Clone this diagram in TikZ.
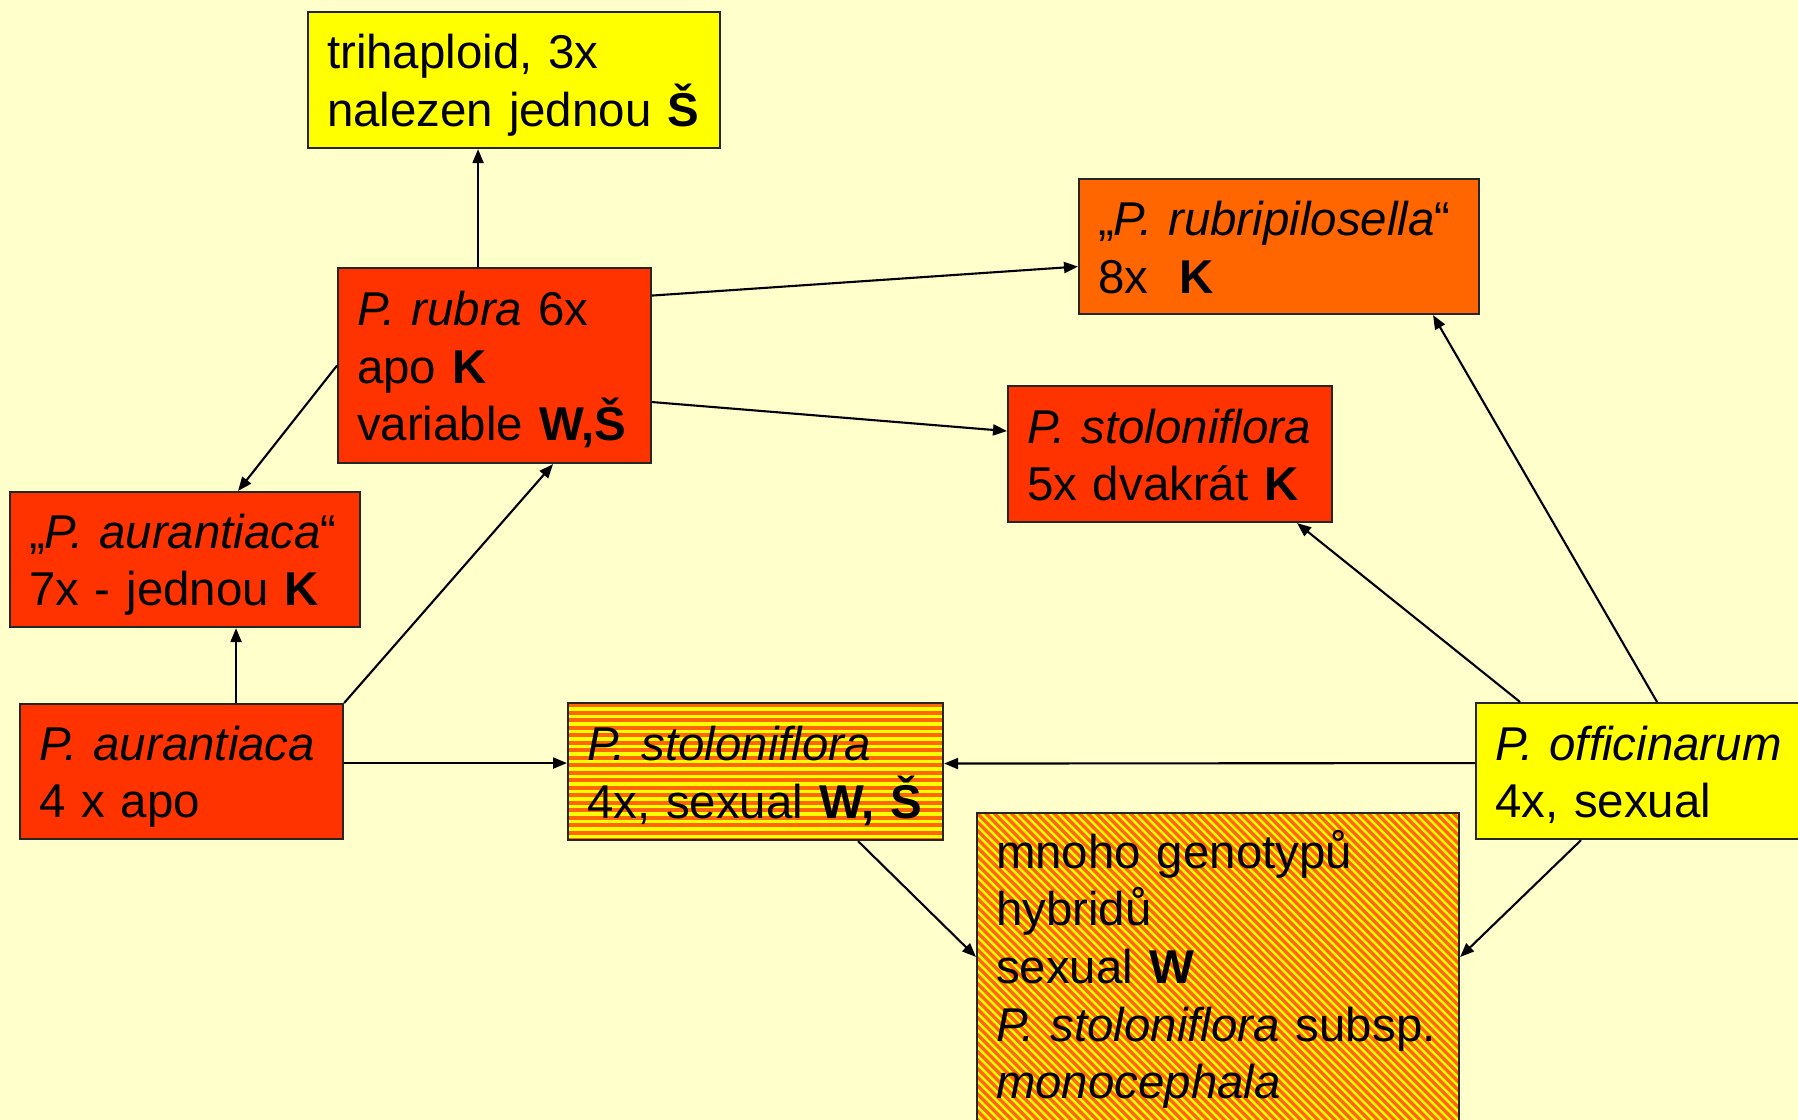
\documentclass[tikz,border=0pt]{standalone}
\usepackage{fontspec}
\setmainfont{Liberation Sans}
\usetikzlibrary{arrows.meta}

\definecolor{paper}{HTML}{FFFFCC}
\definecolor{boxyellow}{HTML}{FFFF00}
\definecolor{boxred}{HTML}{FF3300}
\definecolor{boxorange}{HTML}{FF6600}

\begin{document}
\begin{tikzpicture}[>={Triangle[length=1.4mm,width=1.1mm]},
 taxon/.style={draw=black!85,line width=0.6pt,anchor=north west,align=left,
   inner xsep=0.19cm,inner ysep=0.1cm,font=\fontsize{13.5}{16.4}\selectfont,
   execute at begin node={\rule{0pt}{0.95em}},
   execute at end node={\rule[-0.2em]{0pt}{0.2em}}},
 hstripe/.style={fill=boxyellow,path picture={
   \foreach \k in {0,...,20}
     \fill[boxorange] ([yshift=-\k*0.075cm]path picture bounding box.north west) rectangle ++(5,-0.04);}},
 dstripe/.style={fill=boxyellow,path picture={
   \foreach \k in {-45,...,60}
     \draw[boxorange,line width=0.95pt] ([xshift=\k*0.085cm]path picture bounding box.north west) -- ++(4,-4);}},
 link/.style={->,line width=0.6pt}]
\fill[paper] (0,0) rectangle (17.98,-11.2);
\useasboundingbox (0,0) rectangle (17.98,-11.2);

% boxes
\node[taxon,fill=boxyellow,text width=3.74cm,minimum height=1.36cm] (tri) at (3.07,-0.11)
  {trihaploid, 3x\\nalezen jednou \textbf{Š}};
\node[taxon,fill=boxred,text width=2.75cm,minimum height=1.95cm] (rubra) at (3.37,-2.67)
  {\textit{P. rubra} 6x\\apo \textbf{K}\\variable \textbf{W,Š}};
\node[taxon,fill=boxorange,text width=3.62cm,minimum height=1.35cm] (rubri) at (10.78,-1.78)
  {„\textit{P. rubripilosella}“\\8x\ \ \textbf{K}};
\node[taxon,fill=boxred,text width=2.86cm,minimum height=1.36cm] (stol5) at (10.07,-3.85)
  {\textit{P.~stoloniflora}\\5x dvakrát \textbf{K}};
\node[taxon,fill=boxred,text width=3.12cm,minimum height=1.35cm] (aur7) at (0.09,-4.91)
  {„\textit{P. aurantiaca}“\\7x - jednou \textbf{K}};
\node[taxon,fill=boxred,text width=2.85cm,minimum height=1.35cm] (aur4) at (0.19,-7.03)
  {\textit{P. aurantiaca}\\4 x apo};
\node[taxon,hstripe,text width=3.37cm,minimum height=1.37cm] (stol4) at (5.67,-7.02)
  {\textit{P. stoloniflora}\\4x, sexual \textbf{W, Š}};
\node[taxon,fill=boxyellow,text width=3.02cm,minimum height=1.36cm] (offic) at (14.75,-7.02)
  {\textit{P. officinarum}\\4x, sexual};
% runs off the bottom edge
\node[taxon,dstripe,text width=4.44cm,inner ysep=0.1cm,
  execute at end node={\rule[-0.6em]{0pt}{0.6em}}] (hyb) at (9.76,-8.12)
  {mnoho genotypů\\hybridů\\sexual \textbf{W}\\\textit{P. stoloniflora} subsp.\\\textit{monocephala}};

% arrows
\draw[link] ([xshift=-1.65mm]rubra.north) -- ([xshift=-1.65mm]rubra.north |- tri.south);
\draw[link] ([yshift=7mm]rubra.east) -- ([yshift=-2mm]rubri.west);
\draw[link] ([yshift=-3.65mm]rubra.east) -- ([yshift=2.3mm]stol5.west);
\draw[link] (rubra.west) -- ([xshift=5.3mm]aur7.north);
\draw[link] ([xshift=5.45mm]aur4.north) -- ([xshift=5.45mm]aur4.north |- aur7.south);
\draw[link] (aur4.north east) -- ([xshift=5.85mm]rubra.south);
\draw[link] ([yshift=0.85mm]aur4.east) -- ([yshift=0.85mm]stol4.west);
\draw[link] ([yshift=0.8mm]offic.west) -- ([yshift=0.8mm]stol4.east);
\draw[link] ([xshift=-12.6mm]offic.north) -- ([xshift=12.7mm]stol5.south);
\draw[link] ([xshift=1.1mm]offic.north) -- ([xshift=15.4mm]rubri.south);
\draw[link] ([xshift=10.25mm]stol4.south) -- ([yshift=-1.45cm]hyb.north west);
\draw[link] ([xshift=-6.5mm]offic.south) -- ([yshift=-1.45cm]hyb.north east);
\end{tikzpicture}
\end{document}
